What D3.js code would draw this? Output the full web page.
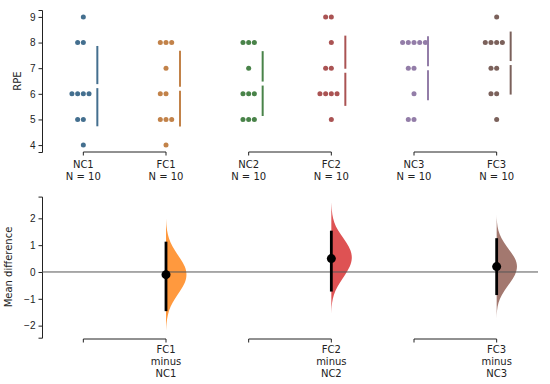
<!DOCTYPE html>
<html>
<head>
<meta charset="utf-8">
<script src="https://cdn.jsdelivr.net/npm/d3@7"></script>
<style>
  body { margin: 0; background: #fff; }
  svg { display: block; font-family: "DejaVu Sans", sans-serif; }
</style>
</head>
<body>
<div id="chart"></div>
<script>
var groups = ["NC1", "FC1", "NC2", "FC2", "NC3", "FC3"];
var rpeNC1 = [9, 8, 8, 6, 6, 6, 6, 5, 5, 4];
var rpeFC1 = [8, 8, 8, 7, 6, 6, 5, 5, 5, 4];
var rpeNC2 = [8, 8, 8, 7, 6, 6, 6, 5, 5, 5];
var rpeFC2 = [9, 9, 8, 7, 7, 6, 6, 6, 6, 5];
var rpeNC3 = [8, 8, 8, 8, 8, 7, 7, 6, 5, 5];
var rpeFC3 = [9, 8, 8, 8, 8, 7, 7, 6, 6, 5];
var groupColors = ["#446f8f", "#c28249", "#498349", "#aa5353", "#937da8", "#7b615b"];
var topTicks = [4, 5, 6, 7, 8, 9];
var botTicks = [-2, -1, 0, 1, 2];

// contrasts: test minus control
var contrastTest = ["FC1", "FC2", "FC3"];
var contrastCtrl = ["NC1", "NC2", "NC3"];
var ciLow = [-1.46, -0.73, -0.86];
var ciHigh = [1.13, 1.54, 1.26];
var deltaColors = ["#ff993e", "#de5253", "#a3786f"];

// bootstrap density outline (offset from the mean difference, relative width)
var densOffset = [-2.1, -1.8, -1.5, -1.2, -0.9, -0.6, -0.3, 0, 0.3, 0.6, 0.9, 1.2, 1.5, 1.8, 2.1];
var densFC1 = [0, 0.02, 0.08, 0.2, 0.42, 0.68, 0.92, 1, 0.92, 0.68, 0.42, 0.2, 0.08, 0.02, 0];
var densFC2 = [0, 0.01, 0.06, 0.18, 0.4, 0.66, 0.9, 1, 0.94, 0.72, 0.45, 0.2, 0.07, 0.02, 0];
var densFC3 = [0, 0, 0.03, 0.14, 0.36, 0.64, 0.9, 1, 0.9, 0.62, 0.34, 0.13, 0.03, 0, 0];

var rpe = [rpeNC1, rpeFC1, rpeNC2, rpeFC2, rpeNC3, rpeFC3];
var dens = [densFC1, densFC2, densFC3];

var width = 550, height = 384;
var svg = d3.select("#chart").append("svg")
  .attr("width", width).attr("height", height);

var ink = "#222";
var x = d3.scalePoint().domain(groups).range([42, 538]).padding(0.5);
var yTop = d3.scaleLinear().domain([3.73, 9.27]).range([152, 10]);
var yBot = d3.scaleLinear().domain([-2.45, 2.81]).range([337.7, 196.6]);

function styleAxis(g) {
  g.selectAll("path").attr("stroke", ink);
  g.selectAll("line").attr("stroke", ink);
  g.selectAll("text").attr("fill", ink).style("font-size", "10px");
}

// ---- top panel: swarm ----
var gTop = svg.append("g");
gTop.append("g")
  .attr("transform", "translate(42,0)")
  .call(d3.axisLeft(yTop).tickValues(topTicks).tickFormat(d3.format("d"))
    .tickSizeOuter(0).tickSize(3.5).tickPadding(3))
  .call(styleAxis);

gTop.append("text")
  .attr("transform", "translate(21,81) rotate(-90)")
  .attr("text-anchor", "middle")
  .attr("fill", ink).style("font-size", "10px")
  .text("RPE");

var swarmOrder = [0, -1, 1, -2, 2, -3, 3];
var dx = 5.7;
groups.forEach(function (name, i) {
  var vals = rpe[i];
  var counts = {};
  var pts = vals.map(function (v) {
    var k = counts[v] || 0;
    counts[v] = k + 1;
    return { v: v, off: swarmOrder[k] };
  });
  gTop.append("g").selectAll("circle")
    .data(pts).enter().append("circle")
    .attr("cx", function (d) { return x(name) + d.off * dx; })
    .attr("cy", function (d) { return yTop(d.v); })
    .attr("r", 2.5)
    .attr("fill", groupColors[i]);

  // mean +/- sd gapped line
  var m = d3.mean(vals), sd = d3.deviation(vals);
  var lx = x(name) + 14;
  var gap = 2;
  gTop.append("line")
    .attr("x1", lx).attr("x2", lx)
    .attr("y1", yTop(m + sd)).attr("y2", yTop(m) - gap)
    .attr("stroke", groupColors[i]).attr("stroke-width", 2);
  gTop.append("line")
    .attr("x1", lx).attr("x2", lx)
    .attr("y1", yTop(m) + gap).attr("y2", yTop(m - sd))
    .attr("stroke", groupColors[i]).attr("stroke-width", 2);

  // labels
  var lab = gTop.append("text")
    .attr("text-anchor", "middle")
    .attr("fill", ink).style("font-size", "10px");
  lab.append("tspan").attr("x", x(name)).attr("y", 168).text(name);
  lab.append("tspan").attr("x", x(name)).attr("y", 180).text("N = " + vals.length);
});

function bracket(g, a, b, y) {
  g.append("path")
    .attr("d", "M" + x(a) + "," + (y + 3.5) + "V" + y + "H" + x(b) + "V" + (y + 3.5))
    .attr("fill", "none").attr("stroke", ink).attr("stroke-width", 1);
}

contrastCtrl.forEach(function (c, i) {
  bracket(gTop, c, contrastTest[i], 152);
});

// ---- bottom panel: mean differences ----
var gBot = svg.append("g");
gBot.append("g")
  .attr("transform", "translate(42,0)")
  .call(d3.axisLeft(yBot).tickValues(botTicks).tickFormat(d3.format("d"))
    .tickSizeOuter(0).tickSize(3.5).tickPadding(3))
  .call(styleAxis);

gBot.append("text")
  .attr("transform", "translate(12,267) rotate(-90)")
  .attr("text-anchor", "middle")
  .attr("fill", ink).style("font-size", "10px")
  .text("Mean difference");

var area = d3.area()
  .curve(d3.curveBasis);

contrastTest.forEach(function (t, i) {
  var ctrl = contrastCtrl[i];
  var diff = d3.mean(rpe[groups.indexOf(t)]) - d3.mean(rpe[groups.indexOf(ctrl)]);
  var cx = x(t);
  var pts = densOffset.map(function (o, j) { return { y: diff + o, w: dens[i][j] }; });
  area
    .x0(function () { return cx; })
    .x1(function (d) { return cx + d.w * 21; })
    .y(function (d) { return yBot(d.y); });
  gBot.append("path")
    .attr("d", area(pts))
    .attr("fill", deltaColors[i]);
});

gBot.append("line")
  .attr("x1", 42).attr("x2", 538)
  .attr("y1", yBot(0)).attr("y2", yBot(0))
  .attr("stroke", "#555").attr("stroke-width", 1);

contrastTest.forEach(function (t, i) {
  var ctrl = contrastCtrl[i];
  var diff = d3.mean(rpe[groups.indexOf(t)]) - d3.mean(rpe[groups.indexOf(ctrl)]);
  var cx = x(t);
  gBot.append("line")
    .attr("x1", cx).attr("x2", cx)
    .attr("y1", yBot(ciHigh[i])).attr("y2", yBot(ciLow[i]))
    .attr("stroke", "#000").attr("stroke-width", 2.8);
  gBot.append("circle")
    .attr("cx", cx).attr("cy", yBot(diff)).attr("r", 4.5)
    .attr("fill", "#000");

  bracket(gBot, ctrl, t, 339);

  var lab = gBot.append("text")
    .attr("text-anchor", "middle")
    .attr("fill", ink).style("font-size", "10px");
  lab.append("tspan").attr("x", cx).attr("y", 353).text(t);
  lab.append("tspan").attr("x", cx).attr("y", 365).text("minus");
  lab.append("tspan").attr("x", cx).attr("y", 377).text(ctrl);
});
</script>
</body>
</html>
